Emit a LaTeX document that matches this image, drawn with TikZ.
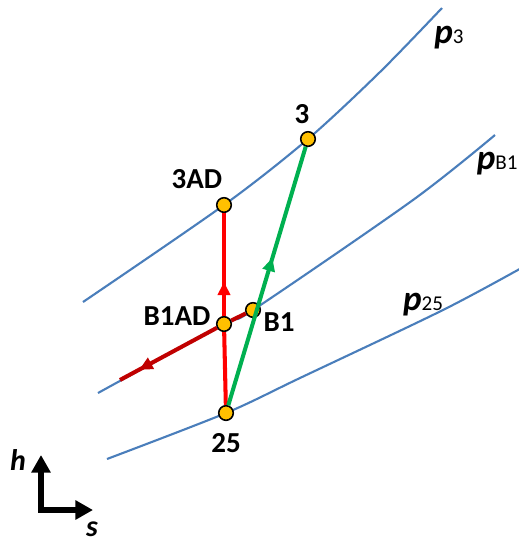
\documentclass[tikz,border=0pt]{standalone}
\usepackage{fontspec}
\setmainfont{Carlito}
\usetikzlibrary{arrows.meta,decorations.markings}

\definecolor{isobar}{RGB}{74,126,187}
\definecolor{ptyellow}{RGB}{255,192,0}
\definecolor{lineRed}{RGB}{255,0,0}
\definecolor{darkRed}{RGB}{192,0,0}
\definecolor{lineGreen}{RGB}{0,176,80}

\tikzset{
    state/.style={circle,draw=black,fill=ptyellow,line width=0.9pt,inner sep=0pt,minimum size=8.3pt},
    isoline/.style={isobar,line width=1.2pt},
    proc/.style={line width=2.3pt},
    lbl/.style={font=\fontsize{16.5}{18}\selectfont\bfseries,inner sep=0pt},
    plbl/.style={font=\fontsize{20}{22}\selectfont\bfseries,inner sep=0pt},
    axlbl/.style={font=\fontsize{17}{19}\selectfont\bfseries\itshape,inner sep=0pt},
    midarrow/.style={postaction={decorate},decoration={markings,
        mark=at position #1 with {\arrow{Triangle[length=7.5pt,width=7pt]}}}}
}

\newcommand{\pres}[1]{{\itshape p}{\fontsize{12}{13}\selectfont\mdseries #1}}

\begin{document}
\begin{tikzpicture}[x=0.02cm,y=-0.02cm]
\useasboundingbox (0,0) rectangle (519,542);

% isobars
\draw[isoline] plot[smooth] coordinates {(83,302) (224,205) (308,139) (380,72) (442,8)};
\draw[isoline] plot[smooth] coordinates {(98,393) (224,324) (253,310) (413,200) (495,135)};
\draw[isoline] plot[smooth] coordinates {(107,459) (226,413) (300,378) (443,310) (525,266)};

\node[plbl] (p3lbl) at (449,38) {\pres{3}};
\node[plbl,anchor=east] (pB1lbl) at (518,164) {\pres{B1}};
\node[plbl] (p25lbl) at (423,305) {\pres{25}};

% states
\node[state] (3) at (308,139) {};
\node[state] (3AD) at (224,205) {};
\node[state] (B1AD) at (224,324) {};
\node[state] (B1) at (253,310) {};
\node[state] (25) at (226,413) {};
\coordinate (bleed) at (120,380);

\node[lbl] (l3) at (302,114) {3};
\node[lbl] (l3AD) at (197,179) {3AD};
\node[lbl] (lB1AD) at (177,316) {B1AD};
\node[lbl] (lB1) at (279,322) {B1};
\node[lbl] (l25) at (226,443) {25};

% processes
\draw[lineRed,proc] (25) -- (B1AD);
\draw[lineRed,proc,midarrow=0.33] (B1AD) -- (3AD);
\draw[lineGreen,proc,midarrow=0.57] (25) -- (3);
\draw[darkRed,proc] (B1) -- (B1AD);
\draw[darkRed,proc,midarrow=0.8] (B1AD) -- (bleed);

% axes
\coordinate (origin) at (41,510);
\coordinate (hTip) at (41,455);
\coordinate (sTip) at (93,510);
\draw[line width=3.6pt,{Triangle[length=10pt,width=10.5pt]}-{Triangle[length=10pt,width=10.5pt]}] (hTip) -- (origin) -- (sTip);
\node[axlbl] (hLbl) at (18,460) {h};
\node[axlbl] (sLbl) at (92,529) {s};
\end{tikzpicture}
\end{document}
